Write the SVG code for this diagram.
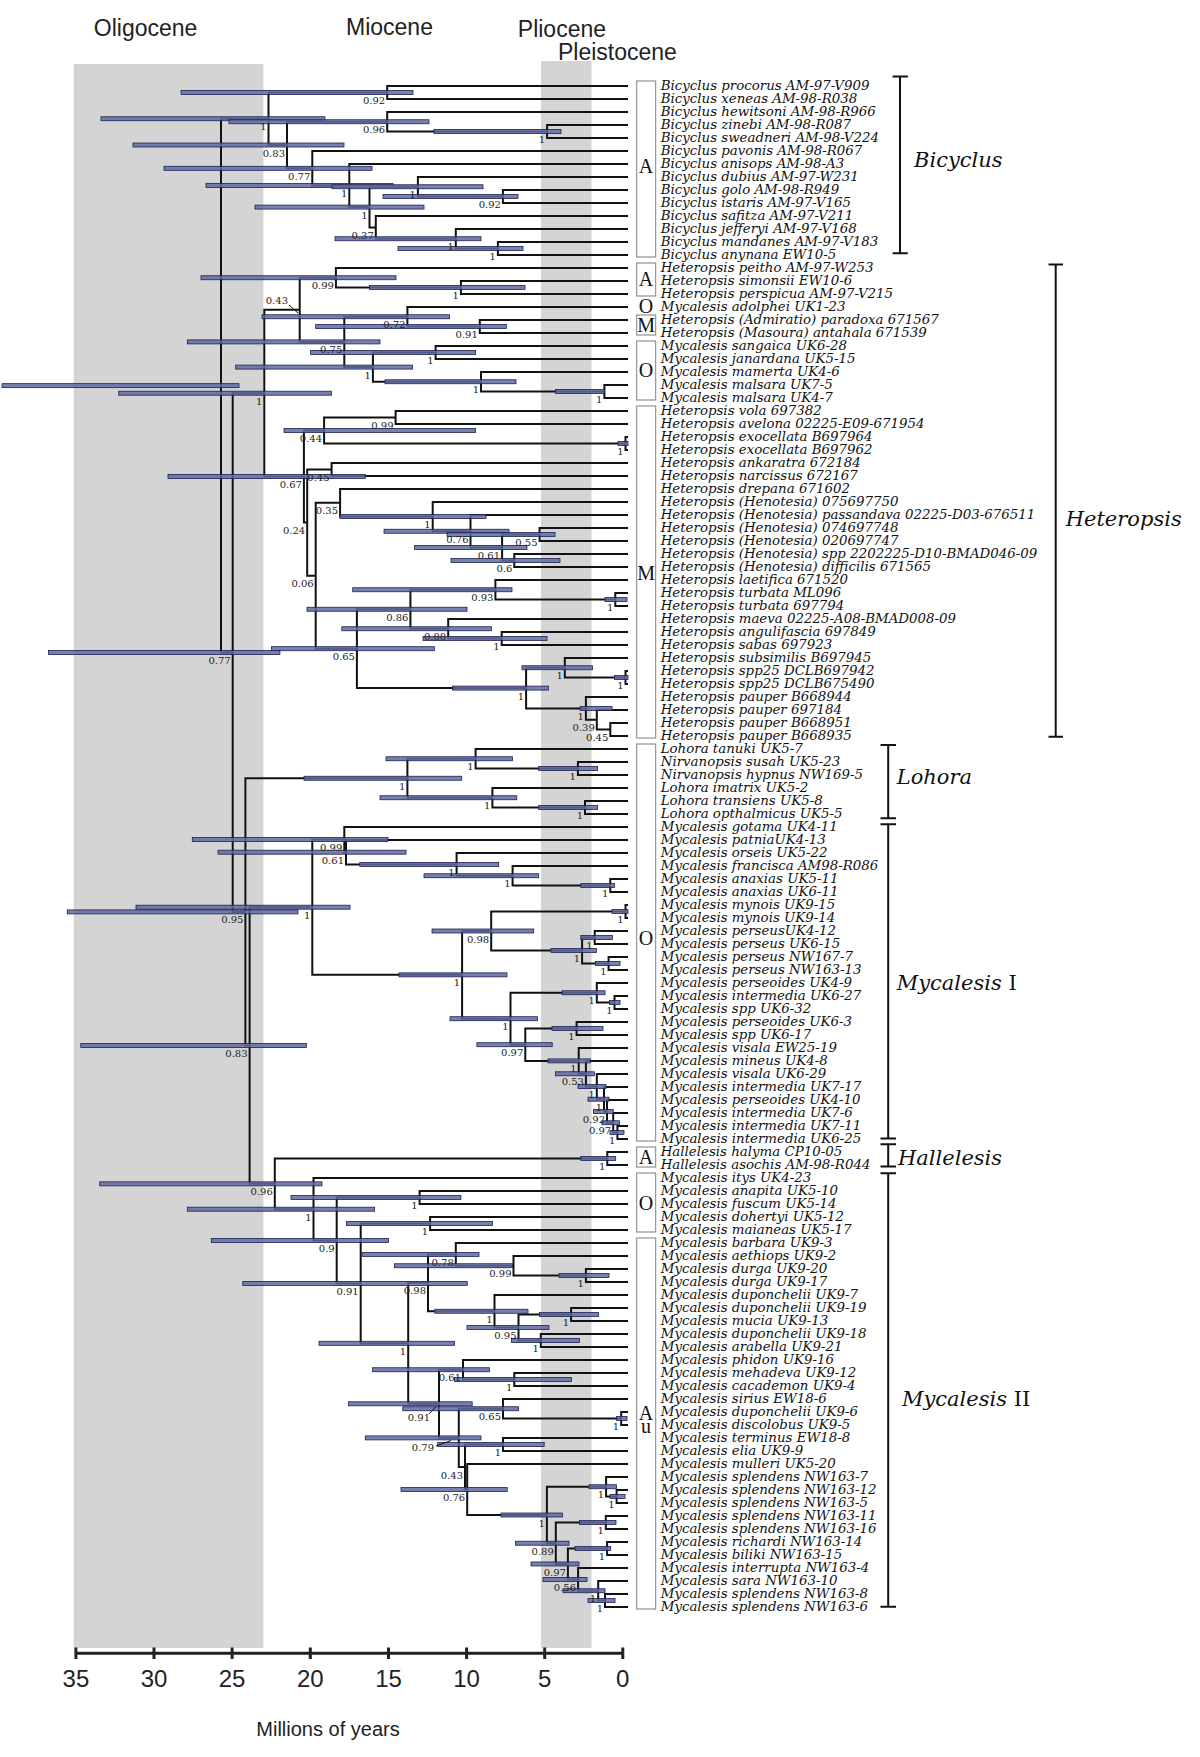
<svg xmlns="http://www.w3.org/2000/svg" width="1200" height="1757" viewBox="0 0 1200 1757">
<style>
.br{fill:none;stroke:#111;stroke-width:2}
.bar{fill:#606aa2;fill-opacity:.85;stroke:#1c2250;stroke-width:.8}
.sv{font-family:"DejaVu Serif",serif;font-size:10px;fill:#222;text-anchor:end}
.tx{font-family:"DejaVu Serif",serif;font-style:italic;font-size:12px;fill:#111}
.bx{fill:#fff;stroke:#9a9a9a;stroke-width:1.3}
.bl{font-family:"Liberation Serif",serif;font-size:20px;text-anchor:middle;fill:#111}
.cl{font-family:"DejaVu Serif",serif;font-style:italic;font-size:21px;fill:#111}
.rm{font-style:normal}
.brk{stroke:#111;stroke-width:2;fill:none}
.ep{font-family:"Liberation Sans",sans-serif;font-size:23px;fill:#222}
.ax{font-family:"Liberation Sans",sans-serif;font-size:24px;fill:#222;text-anchor:middle}
.ld{stroke:#111;stroke-width:1;fill:none}
</style>
<rect width="1200" height="1757" fill="#fff"/>
<g id="epochs">
<rect x="73.7" y="64" width="189.7" height="1584" fill="#d4d4d4"/>
<rect x="541" y="61" width="50.5" height="1587" fill="#d4d4d4"/>
<text class="ep" x="93.8" y="36">Oligocene</text>
<text class="ep" x="346" y="35">Miocene</text>
<text class="ep" x="517.8" y="36.5">Pliocene</text>
<text class="ep" x="558" y="59.5">Pleistocene</text>
</g>
<g id="connectors">
<path class="br" d="M628 86H387.2V99H628M628 125H547.1V138H628M628 112H387.2V131.5H547.1M628 190H502.9V203H628M628 177H417.9V196.5H502.9M628 242H497.9V255H628M628 229H455.8V248.5H497.9M628 216H375.8V238.75H455.8M417.9 186.75H369.5V227.4H375.8M628 164H349.3V207.1H369.5M628 151H312.3V185.55H349.3M387.2 121.75H287V168.3H312.3M387.2 92.5H268.5V145H287"/>
<path class="br" d="M628 281H460.9V294H628M628 268H335.9V287.5H460.9M628 320H479.8V333H628M628 307H407.4V326.5H479.8M628 346H435.6V359H628M628 385H604.4V398H628M628 372H481V391.5H604.4M435.6 352.5H372.9V381.75H481M407.4 316.75H344.3V367.1H372.9M335.9 277.75H299.7V341.9H344.3"/>
<path class="br" d="M628 411H395.6V424H628M628 437H625.5V450H628M395.6 417.5H324.1V443.5H625.5M628 463H331.6V476H628M628 528H539.6V541H628M628 554H514.3V567H628M539.6 534.5H502.1V560.5H514.3M628 515H470.5V547.5H502.1M628 502H432.7V531.25H470.5M628 489H340.1V516.6H432.7M628 593H615.3V606H628M628 580H495.4V599.5H615.3M628 632H501.7V645H628M628 619H448.2V638.5H501.7M495.4 589.75H410.4V628.75H448.2M628 671H625.5V684H628M628 658H564.8V677.5H625.5M628 723H610.3V736H628M628 710H596.8V729.5H610.3M628 697H585.9V719.75H596.8M564.8 667.75H526.1V708.4H585.9M410.4 609.25H356.9V688.1H526.1M340.1 502.8H315.7V648.7H356.9M331.6 469.5H307.2V575.75H315.7M324.1 430.5H303.9V522.6H307.2M299.7 309.8H264.3V476.55H303.9"/>
<path class="br" d="M628 762H577.9V775H628M628 749H475.6V768.5H577.9M628 801H585V814H628M628 788H492.4V807.5H585M475.6 758.75H407.4V797.75H492.4"/>
<path class="br" d="M628 879H610.3V892H628M628 866H512.6V885.5H610.3M628 853H456.6V875.75H512.6M628 840H346V864.4H456.6M628 827H344.3V852.2H346M628 905H625.5V918H628M628 931H594.7V944H628M628 957H608.6V970H628M594.7 937.5H582.1V963.5H608.6M625.5 911.5H491.2V950.5H582.1M628 996H614.5V1009H628M628 983H596.8V1002.5H614.5M628 1022H576.6V1035H628M628 1126H617.4V1139H628M628 1113H613.2V1132.5H617.4M628 1100H607V1122.75H613.2M628 1087H604V1111.4H607M628 1074H596.8V1099.2H604M628 1061H585.9V1086.6H596.8M628 1048H578.7V1073.8H585.9M576.6 1028.5H525.3V1060.9H578.7M596.8 992.75H510.5V1044.7H525.3M491.2 931H462.1V1018.7H510.5M344.3 839.6H312.3V974.85H462.1"/>
<path class="br" d="M628 1152H607.3V1165H628"/>
<path class="br" d="M628 1191H419.6V1204H628M628 1217H430.1V1230H628M628 1269H585.9V1282H628M628 1256H513.5V1275.5H585.9M628 1243H455.8V1265.75H513.5M628 1308H571.1V1321H628M628 1334H540.8V1347H628M571.1 1314.5H518.5V1340.5H540.8M628 1295H494.5V1327.5H518.5M455.8 1254.4H428V1311.25H494.5M628 1373H514.3V1386H628M628 1360H463V1379.5H514.3M628 1412H621.2V1425H628M628 1399H503V1418.5H621.2M628 1438H503V1451H628M628 1490H616.6V1503H628M628 1477H606.1V1496.5H616.6M628 1516H605.8V1529H628M628 1542H607.1V1555H628M628 1594H605V1607H628M628 1581H598.2V1600.5H605M628 1568H578.1V1590.75H598.2M607.1 1548.5H567.9V1579.4H578.1M605.8 1522.5H555.8V1563.95H567.9M606.1 1486.75H546.9V1543.2H555.8M628 1464H467.2V1515H546.9M503 1444.5H465V1489.5H467.2M503 1408.75H458.8V1467H465M463 1369.75H439V1437.9H458.8M428 1282.8H408.2V1403.8H439M430.1 1223.5H360.7V1343.3H408.2M419.6 1197.5H336.7V1283.4H360.7M628 1178H313.5V1240.45H336.7"/>
<path class="br" d="M607.3 1158.5H274.8V1209.2H313.5M312.3 907.2H249.6V1183.85H274.8M407.4 778.25H245.4V1045.5H249.6M264.3 393.2H232.7V911.9H245.4M268.5 118.75H221V652.55H232.7"/>
</g>
<g id="hpd-bars">
<rect class="bar" x="181" y="90.5" width="232" height="4"/>
<rect class="bar" x="101" y="116.75" width="224" height="4"/>
<rect class="bar" x="229" y="119.75" width="200" height="4"/>
<rect class="bar" x="434" y="129.5" width="127" height="4"/>
<rect class="bar" x="133" y="143" width="211" height="4"/>
<rect class="bar" x="164" y="166.3" width="208" height="4"/>
<rect class="bar" x="206" y="183.55" width="187" height="4"/>
<rect class="bar" x="332" y="184.75" width="151" height="4"/>
<rect class="bar" x="383" y="194.5" width="135" height="4"/>
<rect class="bar" x="255" y="205.1" width="169" height="4"/>
<rect class="bar" x="335" y="236.75" width="146" height="4"/>
<rect class="bar" x="398" y="246.5" width="125" height="4"/>
<rect class="bar" x="201" y="275.75" width="195" height="4"/>
<rect class="bar" x="369.5" y="285.5" width="155.5" height="4"/>
<rect class="bar" x="262" y="314.75" width="187.5" height="4"/>
<rect class="bar" x="315.7" y="324.5" width="190.6" height="4"/>
<rect class="bar" x="187.3" y="339.9" width="192.7" height="4"/>
<rect class="bar" x="310.6" y="350.5" width="165" height="4"/>
<rect class="bar" x="235.7" y="365.1" width="176.8" height="4"/>
<rect class="bar" x="385" y="379.75" width="131" height="4"/>
<rect class="bar" x="555.6" y="389.5" width="48.8" height="4"/>
<rect class="bar" x="2" y="383.65" width="237" height="4"/>
<rect class="bar" x="118.7" y="391.2" width="212.9" height="4"/>
<rect class="bar" x="284" y="428.5" width="191.6" height="4"/>
<rect class="bar" x="618" y="441.5" width="10" height="4"/>
<rect class="bar" x="168" y="474.55" width="197.3" height="4"/>
<rect class="bar" x="340" y="514.6" width="146" height="4"/>
<rect class="bar" x="384" y="529.25" width="125" height="4"/>
<rect class="bar" x="447" y="532.5" width="108" height="4"/>
<rect class="bar" x="414.6" y="545.5" width="112.4" height="4"/>
<rect class="bar" x="451" y="558.5" width="109" height="4"/>
<rect class="bar" x="352.7" y="587.75" width="159.3" height="4"/>
<rect class="bar" x="605" y="597.5" width="22" height="4"/>
<rect class="bar" x="307" y="607.25" width="160" height="4"/>
<rect class="bar" x="341.8" y="626.75" width="149.8" height="4"/>
<rect class="bar" x="423" y="636.5" width="124" height="4"/>
<rect class="bar" x="271.5" y="646.7" width="162.8" height="4"/>
<rect class="bar" x="48.4" y="650.55" width="231.5" height="4"/>
<rect class="bar" x="522" y="665.75" width="70.6" height="4"/>
<rect class="bar" x="614.5" y="675.5" width="13.5" height="4"/>
<rect class="bar" x="452.4" y="686.1" width="96" height="4"/>
<rect class="bar" x="580" y="706.4" width="32" height="4"/>
<rect class="bar" x="386" y="756.75" width="126.6" height="4"/>
<rect class="bar" x="538.7" y="766.5" width="58.9" height="4"/>
<rect class="bar" x="304" y="776.25" width="157.7" height="4"/>
<rect class="bar" x="380" y="795.75" width="136.8" height="4"/>
<rect class="bar" x="538.7" y="805.5" width="58.9" height="4"/>
<rect class="bar" x="192.3" y="837.6" width="195.7" height="4"/>
<rect class="bar" x="218" y="850.2" width="188" height="4"/>
<rect class="bar" x="359.8" y="862.4" width="138.9" height="4"/>
<rect class="bar" x="424" y="873.75" width="114.7" height="4"/>
<rect class="bar" x="580.8" y="883.5" width="33.7" height="4"/>
<rect class="bar" x="136" y="905.2" width="214" height="4"/>
<rect class="bar" x="67.3" y="909.9" width="230.7" height="4"/>
<rect class="bar" x="612" y="909.5" width="16" height="4"/>
<rect class="bar" x="432" y="929" width="101.7" height="4"/>
<rect class="bar" x="580.8" y="935.5" width="31.6" height="4"/>
<rect class="bar" x="551" y="948.5" width="45.4" height="4"/>
<rect class="bar" x="595.5" y="961.5" width="24.5" height="4"/>
<rect class="bar" x="399" y="972.85" width="108" height="4"/>
<rect class="bar" x="562" y="990.75" width="43" height="4"/>
<rect class="bar" x="609.4" y="1000.5" width="10.6" height="4"/>
<rect class="bar" x="450" y="1016.7" width="87.5" height="4"/>
<rect class="bar" x="552" y="1026.5" width="51" height="4"/>
<rect class="bar" x="80.8" y="1043.5" width="225.6" height="4"/>
<rect class="bar" x="476.9" y="1042.7" width="75.3" height="4"/>
<rect class="bar" x="548" y="1058.9" width="42.5" height="4"/>
<rect class="bar" x="555.6" y="1071.8" width="38.7" height="4"/>
<rect class="bar" x="578" y="1084.6" width="28" height="4"/>
<rect class="bar" x="588" y="1097.2" width="21" height="4"/>
<rect class="bar" x="593.4" y="1109.4" width="19.8" height="4"/>
<rect class="bar" x="601.9" y="1120.75" width="17.6" height="4"/>
<rect class="bar" x="610" y="1130.5" width="14" height="4"/>
<rect class="bar" x="580.8" y="1156.5" width="34.9" height="4"/>
<rect class="bar" x="99.7" y="1181.85" width="222.3" height="4"/>
<rect class="bar" x="291" y="1195.5" width="169.9" height="4"/>
<rect class="bar" x="187.3" y="1207.2" width="187.3" height="4"/>
<rect class="bar" x="346.4" y="1221.5" width="146" height="4"/>
<rect class="bar" x="211.3" y="1238.45" width="177.2" height="4"/>
<rect class="bar" x="362" y="1252.4" width="117" height="4"/>
<rect class="bar" x="394.4" y="1263.75" width="118.2" height="4"/>
<rect class="bar" x="559" y="1273.5" width="50" height="4"/>
<rect class="bar" x="242.8" y="1281.4" width="224.4" height="4"/>
<rect class="bar" x="434.8" y="1309.25" width="93.2" height="4"/>
<rect class="bar" x="539.6" y="1312.5" width="58.9" height="4"/>
<rect class="bar" x="467" y="1325.5" width="82" height="4"/>
<rect class="bar" x="511.4" y="1338.5" width="68.1" height="4"/>
<rect class="bar" x="319" y="1341.3" width="135.5" height="4"/>
<rect class="bar" x="372.5" y="1367.75" width="117" height="4"/>
<rect class="bar" x="454.5" y="1377.5" width="117" height="4"/>
<rect class="bar" x="348.5" y="1401.8" width="123.7" height="4"/>
<rect class="bar" x="402.8" y="1406.75" width="115.7" height="4"/>
<rect class="bar" x="616.6" y="1416.5" width="10.4" height="4"/>
<rect class="bar" x="365.3" y="1435.9" width="115.7" height="4"/>
<rect class="bar" x="437.7" y="1442.5" width="106.5" height="4"/>
<rect class="bar" x="589" y="1484.75" width="27.6" height="4"/>
<rect class="bar" x="401" y="1487.5" width="106.2" height="4"/>
<rect class="bar" x="610" y="1494.5" width="15" height="4"/>
<rect class="bar" x="501" y="1513" width="61.5" height="4"/>
<rect class="bar" x="579.5" y="1520.5" width="36.5" height="4"/>
<rect class="bar" x="515.6" y="1541.2" width="53.4" height="4"/>
<rect class="bar" x="575" y="1546.5" width="35.7" height="4"/>
<rect class="bar" x="531" y="1561.95" width="48" height="4"/>
<rect class="bar" x="543" y="1577.4" width="44" height="4"/>
<rect class="bar" x="563" y="1588.75" width="42" height="4"/>
<rect class="bar" x="588" y="1598.5" width="27" height="4"/>
</g>
<g id="support-values">
<text class="sv" x="385.2" y="104">0.92</text>
<text class="sv" x="385.2" y="133.3">0.96</text>
<text class="sv" x="545.1" y="143">1</text>
<text class="sv" x="266.5" y="130.3">1</text>
<text class="sv" x="285" y="156.5">0.83</text>
<text class="sv" x="310.3" y="179.8">0.77</text>
<text class="sv" x="347.3" y="197">1</text>
<text class="sv" x="415.9" y="198.3">1</text>
<text class="sv" x="500.9" y="208">0.92</text>
<text class="sv" x="367.5" y="218.6">1</text>
<text class="sv" x="373.8" y="238.9">0.37</text>
<text class="sv" x="453.8" y="250.3">1</text>
<text class="sv" x="495.9" y="260">1</text>
<text class="sv" x="333.9" y="289.3">0.99</text>
<text class="sv" x="458.9" y="299">1</text>
<text class="sv" x="288" y="304">0.43</text>
<path class="ld" d="M289 305L298 313"/>
<text class="sv" x="405.4" y="328.3">0.72</text>
<text class="sv" x="477.8" y="338">0.91</text>
<text class="sv" x="342.3" y="353.4">0.75</text>
<text class="sv" x="433.6" y="364">1</text>
<text class="sv" x="370.9" y="378.6">1</text>
<text class="sv" x="479" y="393.3">1</text>
<text class="sv" x="602.4" y="403">1</text>
<text class="sv" x="262.3" y="404.7">1</text>
<text class="sv" x="393.6" y="429">0.99</text>
<text class="sv" x="322.1" y="442">0.44</text>
<text class="sv" x="623.5" y="455">1</text>
<text class="sv" x="329.6" y="481">0.45</text>
<text class="sv" x="301.9" y="488">0.67</text>
<text class="sv" x="338.1" y="514.3">0.35</text>
<text class="sv" x="430.7" y="528.1">1</text>
<text class="sv" x="305.2" y="534.1">0.24</text>
<text class="sv" x="468.5" y="542.8">0.76</text>
<text class="sv" x="537.6" y="546">0.55</text>
<text class="sv" x="500.1" y="559">0.61</text>
<text class="sv" x="512.3" y="572">0.6</text>
<text class="sv" x="313.7" y="587.3">0.06</text>
<text class="sv" x="493.4" y="601.3">0.93</text>
<text class="sv" x="613.3" y="611">1</text>
<text class="sv" x="408.4" y="620.8">0.86</text>
<text class="sv" x="446.2" y="640.3">0.88</text>
<text class="sv" x="499.7" y="650">1</text>
<text class="sv" x="354.9" y="660.2">0.65</text>
<text class="sv" x="230.7" y="664">0.77</text>
<text class="sv" x="562.8" y="679.3">1</text>
<text class="sv" x="623.5" y="689">1</text>
<text class="sv" x="524.1" y="699.6">1</text>
<text class="sv" x="583.9" y="719.9">1</text>
<text class="sv" x="594.8" y="731.3">0.39</text>
<text class="sv" x="608.3" y="741">0.45</text>
<text class="sv" x="473.6" y="770.3">1</text>
<text class="sv" x="575.9" y="780">1</text>
<text class="sv" x="405.4" y="789.8">1</text>
<text class="sv" x="490.4" y="809.3">1</text>
<text class="sv" x="583" y="819">1</text>
<text class="sv" x="342.3" y="851.1">0.99</text>
<text class="sv" x="344" y="863.7">0.61</text>
<text class="sv" x="454.6" y="875.9">1</text>
<text class="sv" x="510.6" y="887.3">1</text>
<text class="sv" x="608.3" y="897">1</text>
<text class="sv" x="310.3" y="918.7">1</text>
<text class="sv" x="623.5" y="923">1</text>
<text class="sv" x="243.4" y="923.4">0.95</text>
<text class="sv" x="489.2" y="942.5">0.98</text>
<text class="sv" x="592.7" y="949">1</text>
<text class="sv" x="580.1" y="962">1</text>
<text class="sv" x="606.6" y="975">1</text>
<text class="sv" x="460.1" y="986.4">1</text>
<text class="sv" x="594.8" y="1004.3">1</text>
<text class="sv" x="612.5" y="1014">1</text>
<text class="sv" x="508.5" y="1030.2">1</text>
<text class="sv" x="574.6" y="1040">1</text>
<text class="sv" x="523.3" y="1056.2">0.97</text>
<text class="sv" x="247.6" y="1057">0.83</text>
<text class="sv" x="576.7" y="1072.4">1</text>
<text class="sv" x="583.9" y="1085.3">0.53</text>
<text class="sv" x="594.8" y="1098.1">1</text>
<text class="sv" x="602" y="1110.7">1</text>
<text class="sv" x="605" y="1122.9">0.92</text>
<text class="sv" x="611.2" y="1134.3">0.97</text>
<text class="sv" x="615.4" y="1144">1</text>
<text class="sv" x="605.3" y="1170">1</text>
<text class="sv" x="272.8" y="1195.4">0.96</text>
<text class="sv" x="417.6" y="1209">1</text>
<text class="sv" x="311.5" y="1220.7">1</text>
<text class="sv" x="428.1" y="1235">1</text>
<text class="sv" x="334.7" y="1252">0.9</text>
<text class="sv" x="453.8" y="1265.9">0.78</text>
<text class="sv" x="511.5" y="1277.3">0.99</text>
<text class="sv" x="583.9" y="1287">1</text>
<text class="sv" x="358.7" y="1294.9">0.91</text>
<text class="sv" x="426" y="1294.3">0.98</text>
<text class="sv" x="492.5" y="1322.8">1</text>
<text class="sv" x="569.1" y="1326">1</text>
<text class="sv" x="516.5" y="1339">0.95</text>
<text class="sv" x="538.8" y="1352">1</text>
<text class="sv" x="406.2" y="1354.8">1</text>
<text class="sv" x="461" y="1381.3">0.61</text>
<text class="sv" x="512.3" y="1391">1</text>
<text class="sv" x="430" y="1421">0.91</text>
<path class="ld" d="M429 1414L436 1406.5"/>
<text class="sv" x="501" y="1420.3">0.65</text>
<text class="sv" x="619.2" y="1430">1</text>
<text class="sv" x="434" y="1451">0.79</text>
<path class="ld" d="M436 1446L451 1440.5"/>
<text class="sv" x="501" y="1456">1</text>
<text class="sv" x="463" y="1478.5">0.43</text>
<text class="sv" x="604.1" y="1498.3">1</text>
<text class="sv" x="465.2" y="1501">0.76</text>
<text class="sv" x="614.6" y="1508">1</text>
<text class="sv" x="544.9" y="1526.5">1</text>
<text class="sv" x="603.8" y="1534">1</text>
<text class="sv" x="553.8" y="1554.7">0.89</text>
<text class="sv" x="605.1" y="1560">1</text>
<text class="sv" x="565.9" y="1575.5">0.97</text>
<text class="sv" x="576.1" y="1590.9">0.56</text>
<text class="sv" x="596.2" y="1602.3">1</text>
<text class="sv" x="603" y="1612">1</text>
</g>
<g id="taxa" transform="translate(660.7 0) scale(1.115 1)">
<text class="tx" x="0" y="90">Bicyclus procorus AM-97-V909</text>
<text class="tx" x="0" y="103">Bicyclus xeneas AM-98-R038</text>
<text class="tx" x="0" y="116">Bicyclus hewitsoni AM-98-R966</text>
<text class="tx" x="0" y="129">Bicyclus zinebi AM-98-R087</text>
<text class="tx" x="0" y="142">Bicyclus sweadneri AM-98-V224</text>
<text class="tx" x="0" y="155">Bicyclus pavonis AM-98-R067</text>
<text class="tx" x="0" y="168">Bicyclus anisops AM-98-A3</text>
<text class="tx" x="0" y="181">Bicyclus dubius AM-97-W231</text>
<text class="tx" x="0" y="194">Bicyclus golo AM-98-R949</text>
<text class="tx" x="0" y="207">Bicyclus istaris AM-97-V165</text>
<text class="tx" x="0" y="220">Bicyclus safitza AM-97-V211</text>
<text class="tx" x="0" y="233">Bicyclus jefferyi AM-97-V168</text>
<text class="tx" x="0" y="246">Bicyclus mandanes AM-97-V183</text>
<text class="tx" x="0" y="259">Bicyclus anynana EW10-5</text>
<text class="tx" x="0" y="272">Heteropsis peitho AM-97-W253</text>
<text class="tx" x="0" y="285">Heteropsis simonsii EW10-6</text>
<text class="tx" x="0" y="298">Heteropsis perspicua AM-97-V215</text>
<text class="tx" x="0" y="311">Mycalesis adolphei UK1-23</text>
<text class="tx" x="0" y="324">Heteropsis (Admiratio) paradoxa 671567</text>
<text class="tx" x="0" y="337">Heteropsis (Masoura) antahala 671539</text>
<text class="tx" x="0" y="350">Mycalesis sangaica UK6-28</text>
<text class="tx" x="0" y="363">Mycalesis janardana UK5-15</text>
<text class="tx" x="0" y="376">Mycalesis mamerta UK4-6</text>
<text class="tx" x="0" y="389">Mycalesis malsara UK7-5</text>
<text class="tx" x="0" y="402">Mycalesis malsara UK4-7</text>
<text class="tx" x="0" y="415">Heteropsis vola 697382</text>
<text class="tx" x="0" y="428">Heteropsis avelona 02225-E09-671954</text>
<text class="tx" x="0" y="441">Heteropsis exocellata B697964</text>
<text class="tx" x="0" y="454">Heteropsis exocellata B697962</text>
<text class="tx" x="0" y="467">Heteropsis ankaratra 672184</text>
<text class="tx" x="0" y="480">Heteropsis narcissus 672167</text>
<text class="tx" x="0" y="493">Heteropsis drepana 671602</text>
<text class="tx" x="0" y="506">Heteropsis (Henotesia) 075697750</text>
<text class="tx" x="0" y="519">Heteropsis (Henotesia) passandava 02225-D03-676511</text>
<text class="tx" x="0" y="532">Heteropsis (Henotesia) 074697748</text>
<text class="tx" x="0" y="545">Heteropsis (Henotesia) 020697747</text>
<text class="tx" x="0" y="558">Heteropsis (Henotesia) spp 2202225-D10-BMAD046-09</text>
<text class="tx" x="0" y="571">Heteropsis (Henotesia) difficilis 671565</text>
<text class="tx" x="0" y="584">Heteropsis laetifica 671520</text>
<text class="tx" x="0" y="597">Heteropsis turbata ML096</text>
<text class="tx" x="0" y="610">Heteropsis turbata 697794</text>
<text class="tx" x="0" y="623">Heteropsis maeva 02225-A08-BMAD008-09</text>
<text class="tx" x="0" y="636">Heteropsis angulifascia 697849</text>
<text class="tx" x="0" y="649">Heteropsis sabas 697923</text>
<text class="tx" x="0" y="662">Heteropsis subsimilis B697945</text>
<text class="tx" x="0" y="675">Heteropsis spp25 DCLB697942</text>
<text class="tx" x="0" y="688">Heteropsis spp25 DCLB675490</text>
<text class="tx" x="0" y="701">Heteropsis pauper B668944</text>
<text class="tx" x="0" y="714">Heteropsis pauper 697184</text>
<text class="tx" x="0" y="727">Heteropsis pauper B668951</text>
<text class="tx" x="0" y="740">Heteropsis pauper B668935</text>
<text class="tx" x="0" y="753">Lohora tanuki UK5-7</text>
<text class="tx" x="0" y="766">Nirvanopsis susah UK5-23</text>
<text class="tx" x="0" y="779">Nirvanopsis hypnus NW169-5</text>
<text class="tx" x="0" y="792">Lohora imatrix UK5-2</text>
<text class="tx" x="0" y="805">Lohora transiens UK5-8</text>
<text class="tx" x="0" y="818">Lohora opthalmicus UK5-5</text>
<text class="tx" x="0" y="831">Mycalesis gotama UK4-11</text>
<text class="tx" x="0" y="844">Mycalesis patniaUK4-13</text>
<text class="tx" x="0" y="857">Mycalesis orseis UK5-22</text>
<text class="tx" x="0" y="870">Mycalesis francisca AM98-R086</text>
<text class="tx" x="0" y="883">Mycalesis anaxias UK5-11</text>
<text class="tx" x="0" y="896">Mycalesis anaxias UK6-11</text>
<text class="tx" x="0" y="909">Mycalesis mynois UK9-15</text>
<text class="tx" x="0" y="922">Mycalesis mynois UK9-14</text>
<text class="tx" x="0" y="935">Mycalesis perseusUK4-12</text>
<text class="tx" x="0" y="948">Mycalesis perseus UK6-15</text>
<text class="tx" x="0" y="961">Mycalesis perseus NW167-7</text>
<text class="tx" x="0" y="974">Mycalesis perseus NW163-13</text>
<text class="tx" x="0" y="987">Mycalesis perseoides UK4-9</text>
<text class="tx" x="0" y="1000">Mycalesis intermedia UK6-27</text>
<text class="tx" x="0" y="1013">Mycalesis spp UK6-32</text>
<text class="tx" x="0" y="1026">Mycalesis perseoides UK6-3</text>
<text class="tx" x="0" y="1039">Mycalesis spp UK6-17</text>
<text class="tx" x="0" y="1052">Mycalesis visala EW25-19</text>
<text class="tx" x="0" y="1065">Mycalesis mineus UK4-8</text>
<text class="tx" x="0" y="1078">Mycalesis visala UK6-29</text>
<text class="tx" x="0" y="1091">Mycalesis intermedia UK7-17</text>
<text class="tx" x="0" y="1104">Mycalesis perseoides UK4-10</text>
<text class="tx" x="0" y="1117">Mycalesis intermedia UK7-6</text>
<text class="tx" x="0" y="1130">Mycalesis intermedia UK7-11</text>
<text class="tx" x="0" y="1143">Mycalesis intermedia UK6-25</text>
<text class="tx" x="0" y="1156">Hallelesis halyma CP10-05</text>
<text class="tx" x="0" y="1169">Hallelesis asochis AM-98-R044</text>
<text class="tx" x="0" y="1182">Mycalesis itys UK4-23</text>
<text class="tx" x="0" y="1195">Mycalesis anapita UK5-10</text>
<text class="tx" x="0" y="1208">Mycalesis fuscum UK5-14</text>
<text class="tx" x="0" y="1221">Mycalesis dohertyi UK5-12</text>
<text class="tx" x="0" y="1234">Mycalesis maianeas UK5-17</text>
<text class="tx" x="0" y="1247">Mycalesis barbara UK9-3</text>
<text class="tx" x="0" y="1260">Mycalesis aethiops UK9-2</text>
<text class="tx" x="0" y="1273">Mycalesis durga UK9-20</text>
<text class="tx" x="0" y="1286">Mycalesis durga UK9-17</text>
<text class="tx" x="0" y="1299">Mycalesis duponchelii UK9-7</text>
<text class="tx" x="0" y="1312">Mycalesis duponchelii UK9-19</text>
<text class="tx" x="0" y="1325">Mycalesis mucia UK9-13</text>
<text class="tx" x="0" y="1338">Mycalesis duponchelii UK9-18</text>
<text class="tx" x="0" y="1351">Mycalesis arabella UK9-21</text>
<text class="tx" x="0" y="1364">Mycalesis phidon UK9-16</text>
<text class="tx" x="0" y="1377">Mycalesis mehadeva UK9-12</text>
<text class="tx" x="0" y="1390">Mycalesis cacademon UK9-4</text>
<text class="tx" x="0" y="1403">Mycalesis sirius EW18-6</text>
<text class="tx" x="0" y="1416">Mycalesis duponchelii UK9-6</text>
<text class="tx" x="0" y="1429">Mycalesis discolobus UK9-5</text>
<text class="tx" x="0" y="1442">Mycalesis terminus EW18-8</text>
<text class="tx" x="0" y="1455">Mycalesis elia UK9-9</text>
<text class="tx" x="0" y="1468">Mycalesis mulleri UK5-20</text>
<text class="tx" x="0" y="1481">Mycalesis splendens NW163-7</text>
<text class="tx" x="0" y="1494">Mycalesis splendens NW163-12</text>
<text class="tx" x="0" y="1507">Mycalesis splendens NW163-5</text>
<text class="tx" x="0" y="1520">Mycalesis splendens NW163-11</text>
<text class="tx" x="0" y="1533">Mycalesis splendens NW163-16</text>
<text class="tx" x="0" y="1546">Mycalesis richardi NW163-14</text>
<text class="tx" x="0" y="1559">Mycalesis biliki NW163-15</text>
<text class="tx" x="0" y="1572">Mycalesis interrupta NW163-4</text>
<text class="tx" x="0" y="1585">Mycalesis sara NW163-10</text>
<text class="tx" x="0" y="1598">Mycalesis splendens NW163-8</text>
<text class="tx" x="0" y="1611">Mycalesis splendens NW163-6</text>
</g>
<g id="region-A1"><rect class="bx" x="636.6" y="81" width="19" height="176"/><text class="bl" x="646.1" y="173">A</text></g>
<g id="region-A2"><rect class="bx" x="636.6" y="263" width="19" height="33"/><text class="bl" x="646.1" y="286">A</text></g>
<g id="region-O1"><text class="bl" x="646.1" y="313">O</text></g>
<g id="region-M1"><rect class="bx" x="636.6" y="315" width="19" height="20"/><text class="bl" x="646.1" y="332">M</text></g>
<g id="region-O2"><rect class="bx" x="636.6" y="341" width="19" height="59"/><text class="bl" x="646.1" y="377">O</text></g>
<g id="region-M2"><rect class="bx" x="636.6" y="406" width="19" height="332"/><text class="bl" x="646.1" y="580">M</text></g>
<g id="region-O3"><rect class="bx" x="636.6" y="744" width="19" height="397"/><text class="bl" x="646.1" y="945">O</text></g>
<g id="region-A3"><rect class="bx" x="636.6" y="1147" width="19" height="20"/><text class="bl" x="646.1" y="1164">A</text></g>
<g id="region-O4"><rect class="bx" x="636.6" y="1173" width="19" height="59"/><text class="bl" x="646.1" y="1210">O</text></g>
<g id="region-Au"><rect class="bx" x="636.6" y="1238" width="19" height="371"/><text class="bl" x="646.1" y="1420"><tspan x="646.1">A</tspan><tspan x="646.1" dy="13">u</tspan></text></g>
<g id="clade-Bicyclus"><path class="brk" d="M892.6 76.4H907.8M900 76.4V253.2M892.6 253.2H907.8"/><text class="cl" x="914" y="167">Bicyclus</text></g>
<g id="clade-Heteropsis"><path class="brk" d="M1048.5 264.6H1063M1055.7 264.6V736.8M1048.5 736.8H1063"/><text class="cl" x="1065.7" y="526">Heteropsis</text></g>
<g id="clade-Lohora"><path class="brk" d="M880.5 745H896M888.2 745V818.2M880.5 818.2H896"/><text class="cl" x="896.7" y="784.3">Lohora</text></g>
<g id="clade-MycalesisI"><path class="brk" d="M880.5 824.3H896M888.2 824.3V1138.6M880.5 1138.6H896"/><text class="cl" x="896.7" y="989.7">Mycalesis <tspan class="rm">I</tspan></text></g>
<g id="clade-Hallelesis"><path class="brk" d="M880.5 1144.3H896M888.2 1144.3V1166.4M880.5 1166.4H896"/><text class="cl" x="898" y="1165.4">Hallelesis</text></g>
<g id="clade-MycalesisII"><path class="brk" d="M880.5 1173.3H896M888.2 1173.3V1606.7M880.5 1606.7H896"/><text class="cl" x="901.9" y="1406">Mycalesis <tspan class="rm">II</tspan></text></g>
<g id="axis">
<path stroke="#222" stroke-width="3" fill="none" d="M75.9 1653.3H622.8M75.9 1647.5V1659M154 1647.5V1659M232.1 1647.5V1659M310.3 1647.5V1659M388.5 1647.5V1659M466.6 1647.5V1659M544.7 1647.5V1659M622.8 1647.5V1659"/>
<text class="ax" x="75.9" y="1687">35</text>
<text class="ax" x="154" y="1687">30</text>
<text class="ax" x="232.1" y="1687">25</text>
<text class="ax" x="310.3" y="1687">20</text>
<text class="ax" x="388.5" y="1687">15</text>
<text class="ax" x="466.6" y="1687">10</text>
<text class="ax" x="544.7" y="1687">5</text>
<text class="ax" x="622.8" y="1687">0</text>
<text x="328" y="1736" font-family="Liberation Sans, sans-serif" font-size="20" fill="#222" text-anchor="middle">Millions of years</text>
</g>
</svg>
